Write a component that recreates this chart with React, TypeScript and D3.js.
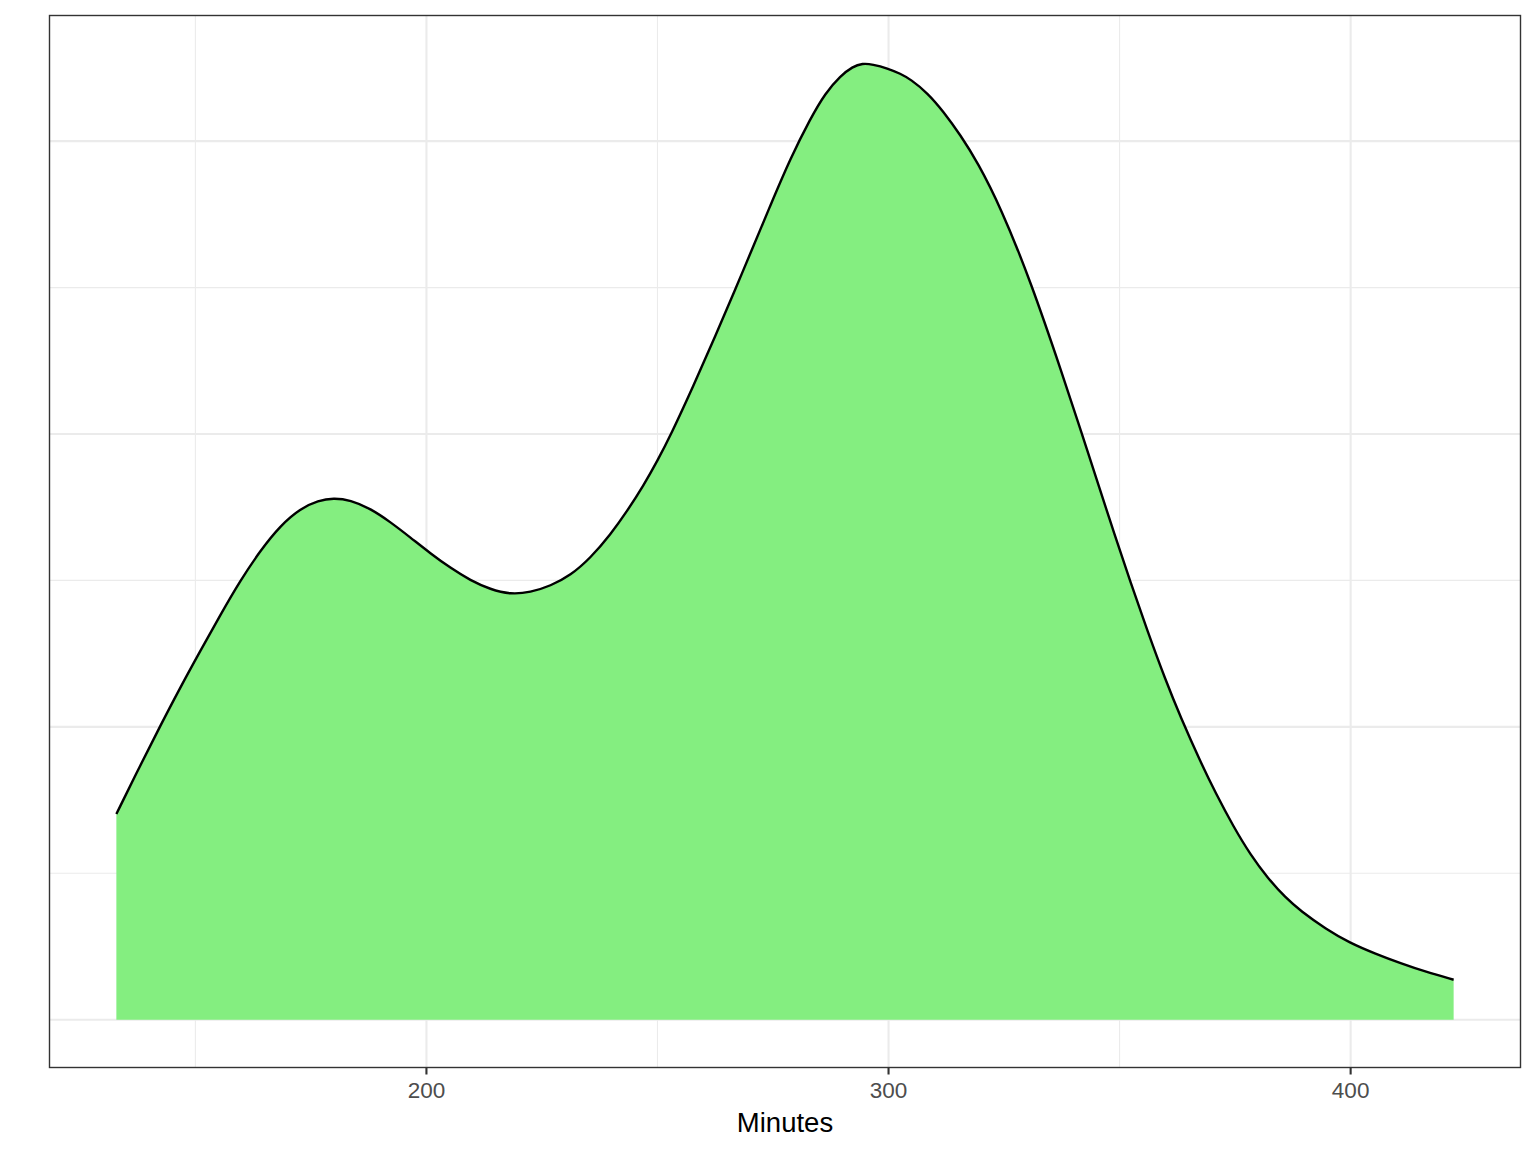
import React from "react";
import * as d3 from "d3";

// Density estimate (minutes vs density)
const minutes = [
  132.9, 138.1, 142.42, 146.75, 151.08, 155.41, 159.74, 164.07, 168.4, 172.73, 176.62, 179.87,
  183.55, 187.88, 192.21, 196.54, 200.87, 205.19, 209.52, 213.85, 218.18, 222.51, 226.84, 231.17,
  235.5, 239.83, 243.51, 246.97, 250.0, 252.81, 257.79, 262.55, 266.88, 270.13, 274.46, 278.79,
  283.12, 286.36, 289.61, 292.21, 294.37, 296.54, 299.78, 302.6, 304.76, 308.44, 311.9, 315.58,
  319.26, 324.24, 330.74, 337.88, 341.56, 345.89, 348.7, 352.38, 356.06, 359.96, 363.2, 367.53,
  370.78, 374.68, 378.35, 382.03, 385.93, 389.18, 394.59, 399.78, 405.41, 410.82, 416.23, 422.29,
];
const density = [
  0.0014045, 0.0017386, 0.0020079, 0.0022704, 0.0025192, 0.0027647, 0.003, 0.0032045, 0.0033749,
  0.0034908, 0.0035454, 0.0035624, 0.0035488, 0.0034908, 0.0033988, 0.0032931, 0.003184, 0.0030852,
  0.003, 0.0029386, 0.0029045, 0.0029181, 0.0029624, 0.003034, 0.0031533, 0.0033135, 0.0034772,
  0.0036476, 0.0038181, 0.0039885, 0.0043294, 0.0046703, 0.0049908, 0.0052362, 0.0055635, 0.0058839,
  0.0061567, 0.0063303, 0.0064462, 0.0065092, 0.0065316, 0.0065248, 0.0064978, 0.0064603, 0.0064228,
  0.0063289, 0.0062014, 0.0060407, 0.0058566, 0.0055498, 0.0050453, 0.004384, 0.0040294, 0.0036067,
  0.003334, 0.0029863, 0.0026522, 0.0023181, 0.0020659, 0.001759, 0.0015477, 0.0013159, 0.001125,
  0.0009682, 0.0008318, 0.0007432, 0.0006204, 0.000525, 0.00045, 0.0003852, 0.0003273, 0.0002727,
];
const xMajorTicks = [200, 300, 400];
const xMinorTicks = [150, 250, 350];
const yMajorTicks = [0, 0.002, 0.004, 0.006];
const yMinorTicks = [0.001, 0.003, 0.005];
const xTitle = "Minutes";

const W = 1536;
const H = 1152;
const panel = { left: 49.5, right: 1520.5, top: 15.5, bottom: 1067.5 };
const FILL = "#84EE80";
const GRID = "#EBEBEB";

export default function App() {
  const data = minutes.map((m, i) => ({ x: m, y: density[i] }));
  const [x0, x1] = d3.extent(minutes) as [number, number];
  const xPad = (x1 - x0) * 0.05;
  const yMax = d3.max(density) as number;
  const yPad = yMax * 0.05;

  const x = d3.scaleLinear().domain([x0 - xPad, x1 + xPad]).range([panel.left, panel.right]);
  const y = d3.scaleLinear().domain([0 - yPad, yMax + yPad]).range([panel.bottom, panel.top]);

  const area = d3
    .area<{ x: number; y: number }>()
    .x((d) => x(d.x))
    .y0(y(0))
    .y1((d) => y(d.y))
    .curve(d3.curveBasis);
  const line = d3
    .line<{ x: number; y: number }>()
    .x((d) => x(d.x))
    .y((d) => y(d.y))
    .curve(d3.curveBasis);

  const font = "'Liberation Sans', Arial, Helvetica, sans-serif";

  return (
    <svg
      width={W}
      height={H}
      viewBox={`0 0 ${W} ${H}`}
      style={{ position: "absolute", left: 0, top: 0, background: "#fff" }}
    >
      <rect x={0} y={0} width={W} height={H} fill="#fff" />
      {/* minor grid */}
      {xMinorTicks.map((t) => (
        <line key={"xm" + t} x1={x(t)} x2={x(t)} y1={panel.top} y2={panel.bottom} stroke={GRID} strokeWidth={1.1} />
      ))}
      {yMinorTicks.map((t) => (
        <line key={"ym" + t} x1={panel.left} x2={panel.right} y1={y(t)} y2={y(t)} stroke={GRID} strokeWidth={1.1} />
      ))}
      {/* major grid */}
      {xMajorTicks.map((t) => (
        <line key={"xM" + t} x1={x(t)} x2={x(t)} y1={panel.top} y2={panel.bottom} stroke={GRID} strokeWidth={2.1} />
      ))}
      {yMajorTicks.map((t) => (
        <line key={"yM" + t} x1={panel.left} x2={panel.right} y1={y(t)} y2={y(t)} stroke={GRID} strokeWidth={2.1} />
      ))}
      {/* density */}
      <path d={area(data) || ""} fill={FILL} stroke="none" />
      <path d={line(data) || ""} fill="none" stroke="#000" strokeWidth={2.4} strokeLinejoin="round" />
      {/* panel border */}
      <rect
        x={panel.left}
        y={panel.top}
        width={panel.right - panel.left}
        height={panel.bottom - panel.top}
        fill="none"
        stroke="#333333"
        strokeWidth={1.4}
      />
      {/* x axis ticks and labels */}
      {xMajorTicks.map((t) => (
        <g key={"xt" + t}>
          <line x1={x(t)} x2={x(t)} y1={panel.bottom} y2={panel.bottom + 7} stroke="#333333" strokeWidth={2.1} />
          <text x={x(t)} y={1098} textAnchor="middle" fontFamily={font} fontSize={22.5} fill="#4D4D4D">
            {t}
          </text>
        </g>
      ))}
      <text
        x={(panel.left + panel.right) / 2}
        y={1132}
        textAnchor="middle"
        fontFamily={font}
        fontSize={27.5}
        fill="#000"
      >
        {xTitle}
      </text>
    </svg>
  );
}
